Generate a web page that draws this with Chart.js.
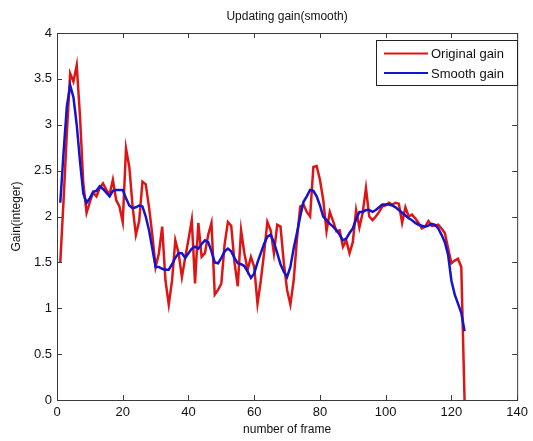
<!DOCTYPE html>
<html>
<head>
<meta charset="utf-8">
<script src="https://cdn.jsdelivr.net/npm/chart.js@4/dist/chart.umd.min.js"></script>
<style>
  html, body { margin: 0; padding: 0; background: #fff; }
  #wrap { width: 533px; height: 441px; position: relative; }
</style>
</head>
<body>
<div id="wrap"><canvas id="c"></canvas></div>
<script>
// ---- data ----
const frames = Array.from({ length: 124 }, (_, i) => i + 1);

const originalGain = [
  1.50, 2.18, 2.91, 3.56, 3.47, 3.65, 3.09, 2.36, 2.04, 2.16,
  2.26, 2.22, 2.31, 2.36, 2.29, 2.24, 2.40, 2.18, 2.11, 1.94,
  2.74, 2.54, 2.11, 1.80, 1.95, 2.38, 2.35, 2.10, 1.80, 1.45,
  1.60, 1.89, 1.30, 1.04, 1.30, 1.74, 1.60, 1.34, 1.55, 1.75,
  1.96, 1.27, 1.93, 1.56, 1.60, 1.80, 1.93, 1.15, 1.20, 1.27,
  1.70, 1.94, 1.90, 1.50, 1.24, 1.85, 1.60, 1.42, 1.56, 1.45,
  1.05, 1.30, 1.60, 1.94, 1.85, 1.60, 1.91, 1.89, 1.50, 1.20,
  1.04, 1.30, 1.75, 2.11, 2.13, 2.05, 2.00, 2.54, 2.55, 2.40,
  2.18, 1.84, 2.05, 1.95, 1.84, 1.85, 1.67, 1.74, 1.60, 1.72,
  2.07, 1.88, 2.04, 2.31, 2.00, 1.96, 2.00, 2.05, 2.11, 2.12,
  2.15, 2.13, 2.15, 2.14, 1.93, 2.10, 2.00, 2.02, 1.98, 1.93,
  1.87, 1.89, 1.95, 1.90, 1.90, 1.91, 1.87, 1.82, 1.65, 1.49,
  1.52, 1.54, 1.45, 0.00
];

const smoothGain = [
  2.15, 2.70, 3.20, 3.43, 3.30, 3.00, 2.60, 2.25, 2.15, 2.20,
  2.27, 2.28, 2.33, 2.30, 2.26, 2.22, 2.28, 2.29, 2.29, 2.29,
  2.20, 2.12, 2.09, 2.10, 2.12, 2.11, 2.00, 1.85, 1.65, 1.45,
  1.45, 1.43, 1.42, 1.42, 1.48, 1.55, 1.60, 1.60, 1.55, 1.60,
  1.65, 1.67, 1.65, 1.70, 1.74, 1.72, 1.62, 1.50, 1.49, 1.55,
  1.62, 1.65, 1.62, 1.55, 1.49, 1.48, 1.46, 1.40, 1.33, 1.38,
  1.50, 1.60, 1.70, 1.78, 1.80, 1.72, 1.60, 1.48, 1.40, 1.34,
  1.45, 1.65, 1.82, 2.00, 2.16, 2.22, 2.29, 2.28, 2.22, 2.12,
  2.00, 1.96, 1.92, 1.89, 1.85, 1.80, 1.74, 1.76, 1.82, 1.87,
  1.97, 2.05, 2.05, 2.07, 2.07, 2.05, 2.07, 2.10, 2.13, 2.13,
  2.13, 2.12, 2.10, 2.07, 2.04, 2.01, 1.98, 1.96, 1.93, 1.91,
  1.90, 1.89, 1.90, 1.92, 1.91, 1.87, 1.80, 1.72, 1.58, 1.30,
  1.15, 1.05, 0.95, 0.75
];

const xTicks = [0, 20, 40, 60, 80, 100, 120, 140];
const yTicks = [0, 0.5, 1, 1.5, 2, 2.5, 3, 3.5, 4];

const TITLE = 'Updating gain(smooth)';
const X_LABEL = 'number of frame';
const Y_LABEL = 'Gain(integer)';

const RED = '#dd1515';
const BLUE = '#1414cc';
const AXIS = '#3a3a3a';
const FONT = "'Liberation Sans', Arial, sans-serif";

// MATLAB-style box, inward ticks, legend and labels
const matlabPlugin = {
  id: 'matlabAxes',
  afterDraw(chart) {
    const { ctx, chartArea: a, scales } = chart;
    ctx.save();
    ctx.strokeStyle = AXIS; ctx.lineWidth = 1;
    ctx.strokeRect(a.left + 0.5, a.top + 0.5, a.width, a.height);
    ctx.beginPath();
    xTicks.forEach(v => {
      const x = Math.round(scales.x.getPixelForValue(v)) + 0.5;
      ctx.moveTo(x, a.bottom); ctx.lineTo(x, a.bottom - 5);
      ctx.moveTo(x, a.top); ctx.lineTo(x, a.top + 5);
    });
    yTicks.forEach(v => {
      const y = Math.round(scales.y.getPixelForValue(v)) + 0.5;
      ctx.moveTo(a.left, y); ctx.lineTo(a.left + 5, y);
      ctx.moveTo(a.right, y); ctx.lineTo(a.right - 5, y);
    });
    ctx.stroke();

    // title + axis labels
    ctx.fillStyle = '#111';
    ctx.font = `12px ${FONT}`;
    ctx.textAlign = 'center'; ctx.textBaseline = 'middle';
    const cx = (a.left + a.right) / 2;
    ctx.fillText(TITLE, cx, 17);
    ctx.fillText(X_LABEL, cx, 430);
    ctx.save();
    ctx.translate(17, (a.top + a.bottom) / 2);
    ctx.rotate(-Math.PI / 2);
    ctx.fillText(Y_LABEL, 0, 0);
    ctx.restore();

    // legend box
    const lx = 376, ly = 40, lw = 141, lh = 45;
    ctx.fillStyle = '#fff';
    ctx.fillRect(lx, ly, lw, lh);
    ctx.strokeStyle = '#222';
    ctx.strokeRect(lx + 0.5, ly + 0.5, lw, lh);
    ctx.font = `13px ${FONT}`;
    ctx.textAlign = 'left';
    chart.data.datasets.forEach((ds, i) => {
      const y = ly + 13.5 + i * 19.5;
      ctx.strokeStyle = ds.borderColor; ctx.lineWidth = 2;
      ctx.beginPath(); ctx.moveTo(lx + 8, y); ctx.lineTo(lx + 52, y); ctx.stroke();
      ctx.fillStyle = '#111';
      ctx.fillText(ds.label, lx + 55, y + 1);
    });
    ctx.restore();
  },
};

new Chart(document.getElementById('c'), {
  type: 'line',
  data: {
    datasets: [
      { label: 'Original gain', data: frames.map((f, i) => ({ x: f, y: originalGain[i] })),
        borderColor: RED, borderWidth: 2.5, pointRadius: 0, tension: 0, order: 2 },
      { label: 'Smooth gain', data: frames.map((f, i) => ({ x: f, y: smoothGain[i] })),
        borderColor: BLUE, borderWidth: 2.5, pointRadius: 0, tension: 0, order: 1 },
    ],
  },
  options: {
    responsive: true, maintainAspectRatio: false, animation: false,
    layout: { padding: { top: 33, right: 9, left: 0, bottom: 0 } },
    scales: {
      x: {
        type: 'linear', min: 0, max: 140,
        afterFit: s => { s.height = 41; },
        afterBuildTicks: s => { s.ticks = xTicks.map(v => ({ value: v })); },
        grid: { display: false, drawTicks: false }, border: { display: false },
        ticks: { color: '#111', padding: 5, maxRotation: 0, font: { family: FONT, size: 13 },
          callback: v => String(v) },
      },
      y: {
        min: 0, max: 4,
        afterFit: s => { s.width = 57; },
        afterBuildTicks: s => { s.ticks = yTicks.map(v => ({ value: v })); },
        grid: { display: false, drawTicks: false }, border: { display: false },
        ticks: { color: '#111', padding: 5, font: { family: FONT, size: 13 },
          callback: v => String(v) },
      },
    },
    plugins: { legend: { display: false }, tooltip: { enabled: false } },
  },
  plugins: [matlabPlugin],
});
</script>
</body>
</html>
